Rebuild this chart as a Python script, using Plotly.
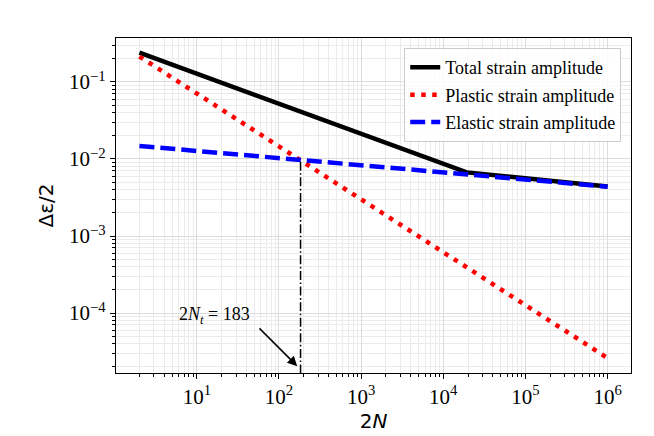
import math
import plotly.graph_objects as go

# ---- data ----
total_x = [2, 1.93e4, 1e6]
total_y = [0.240, 0.0067, 0.0044]
plastic_x = [2, 1e6]
plastic_y = [0.214, 2.6e-5]
elastic_x = [2, 1e6]
elastic_y = [0.01476, 0.00437]
Nt = 183
Nt_line_y = [0.0092, 1e-5]
series_names = ["Total strain amplitude", "Plastic strain amplitude", "Elastic strain amplitude"]
x_ticks = [10, 100, 1000, 1e4, 1e5, 1e6]
x_ticktext = ["10<sup>1</sup>", "10<sup>2</sup>", "10<sup>3</sup>", "10<sup>4</sup>", "10<sup>5</sup>", "10<sup>6</sup>"]
y_ticks = [1e-4, 1e-3, 1e-2, 1e-1]
y_ticktext = ["10<sup>−4</sup>", "10<sup>−3</sup>", "10<sup>−2</sup>", "10<sup>−1</sup>"]

fig = go.Figure()
fig.add_trace(go.Scatter(x=total_x, y=total_y, mode="lines", name=series_names[0],
                         line=dict(color="black", width=4.5), legendgroup="a"))
fig.add_trace(go.Scatter(x=plastic_x, y=plastic_y, mode="lines", name=series_names[1],
                         line=dict(color="#ff0000", width=4.5, dash="4.5px,6.5px"), legendgroup="b"))
fig.add_trace(go.Scatter(x=elastic_x, y=elastic_y, mode="lines", name=series_names[2],
                         line=dict(color="#0000ff", width=4.5, dash="15px,6px"), legendgroup="c"))
fig.add_trace(go.Scatter(x=[Nt, Nt], y=Nt_line_y, mode="lines", showlegend=False,
                         line=dict(color="black", width=1.5, dash="9px,2.5px,1.6px,2.5px")))

fig.add_annotation(x=math.log10(Nt) - 0.04, y=-4.69, ax=1.744, ay=-4.18,
                   xref="x", yref="y", axref="x", ayref="y", text="",
                   showarrow=True, arrowhead=2, arrowsize=1.3, arrowwidth=1.5, arrowcolor="black")
fig.add_annotation(x=1.215, y=-4.03, xref="x", yref="y", showarrow=False,
                   text="2<i>N</i><sub><i>t</i></sub> = 183",
                   font=dict(family="Liberation Serif", size=18, color="black"))

axis_common = dict(type="log", showline=True, mirror=True, linecolor="black", linewidth=1.2,
                   ticks="outside", ticklen=5, tickwidth=1.2, tickcolor="black",
                   showgrid=True, gridcolor="#dcdcdc", gridwidth=1, zeroline=False,
                   tickfont=dict(family="Liberation Serif", size=21, color="black"),
                   minor=dict(dtick="D1", ticks="outside", ticklen=3, tickwidth=1, tickcolor="black",
                              showgrid=True, gridcolor="#ebebeb", gridwidth=1))

fig.update_xaxes(**axis_common, range=[0.016, 6.285], tickvals=x_ticks, ticktext=x_ticktext,
                 title=dict(text="2<i>N</i>", font=dict(family="DejaVu Sans", size=20, color="black"), standoff=2))
fig.update_yaxes(**axis_common, range=[-4.779, -0.429], tickvals=y_ticks, ticktext=y_ticktext,
                 title=dict(text="Δε/2", font=dict(family="DejaVu Sans", size=20, color="black"), standoff=10))

fig.update_layout(
    width=654, height=436,
    margin=dict(l=116, r=23, t=38, b=63, autoexpand=False),
    paper_bgcolor="white", plot_bgcolor="white",
    legend=dict(x=0.981, y=0.970, xanchor="right", yanchor="top",
                bgcolor="rgba(255,255,255,0.85)", bordercolor="#cccccc", borderwidth=1,
                font=dict(family="Liberation Serif", size=18, color="black"),
                traceorder="grouped", tracegroupgap=1),
)

fig.write_html("out.html")
